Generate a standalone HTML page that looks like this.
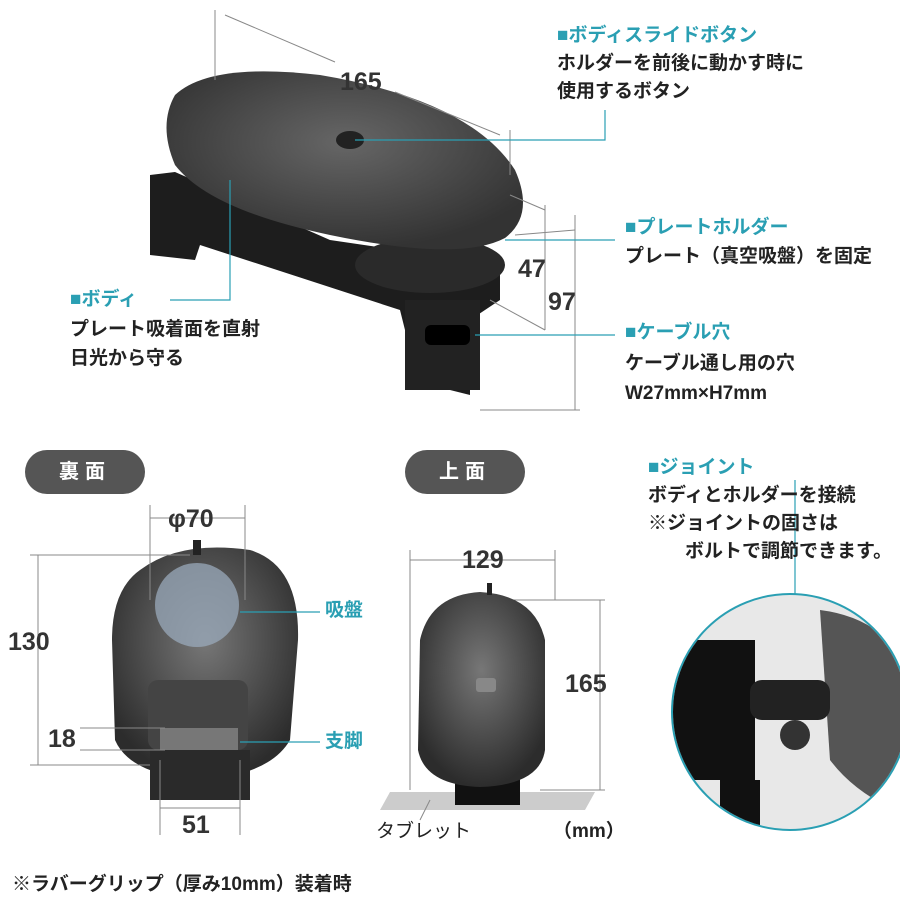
<!DOCTYPE html>
<html><head><meta charset="utf-8"><style>
body{margin:0;width:900px;height:900px;background:#fff;position:relative;overflow:hidden;font-family:"Liberation Sans","Noto Sans CJK JP",sans-serif;color:#222}
.t{position:absolute;font-weight:bold;font-size:19px;white-space:nowrap;line-height:1}
.h{color:#2a9fb3}
.n{position:absolute;font-size:25px;color:#333;font-weight:bold;line-height:1}
.pill{position:absolute;background:#555;color:#fff;border-radius:24px;font-size:20px;font-weight:bold;text-align:center;line-height:44px;letter-spacing:6px}
svg{position:absolute;left:0;top:0}
</style></head><body>
<svg width="900" height="900">
<defs>
<radialGradient id="g1" cx="50%" cy="40%" r="60%"><stop offset="0" stop-color="#666"/><stop offset="1" stop-color="#333"/></radialGradient>
<radialGradient id="g2" cx="50%" cy="40%" r="60%"><stop offset="0" stop-color="#777"/><stop offset="1" stop-color="#2c2c2c"/></radialGradient>
</defs>
<!-- top device -->
<path d="M150 175 L175 172 L330 240 L500 265 L500 300 L470 320 L470 395 L410 380 L405 330 L400 310 L200 245 L195 260 L150 255 Z" fill="#1d1d1d"/>
<rect x="405" y="300" width="75" height="90" fill="#222"/>
<rect x="425" y="325" width="45" height="20" rx="6" fill="#000"/>
<ellipse cx="430" cy="265" rx="75" ry="28" fill="#2a2a2a"/>
<path d="M175 95 Q210 62 320 75 Q470 100 515 170 Q535 215 505 238 Q460 262 330 235 Q210 210 175 165 Q158 125 175 95Z" fill="url(#g1)"/>
<ellipse cx="350" cy="140" rx="14" ry="9" fill="#222"/>
<g stroke="#888" stroke-width="1" fill="none">
<line x1="215" y1="10" x2="215" y2="80"/><line x1="510" y1="130" x2="510" y2="175"/>
<line x1="225" y1="15" x2="335" y2="62"/><line x1="395" y1="92" x2="500" y2="135"/>
<line x1="510" y1="195" x2="545" y2="210"/><line x1="545" y1="205" x2="545" y2="330"/>
<line x1="515" y1="235" x2="575" y2="230"/><line x1="575" y1="215" x2="575" y2="410"/>
<line x1="490" y1="300" x2="545" y2="330"/><line x1="480" y1="410" x2="580" y2="410"/>
</g>
<g stroke="#2a9fb3" stroke-width="1.2" fill="none">
<polyline points="355,140 605,140 605,110"/>
<polyline points="505,240 615,240"/>
<polyline points="475,335 615,335"/>
<polyline points="230,180 230,300 170,300"/>
<polyline points="795,690 795,480"/>
</g>
<!-- joint circle -->
<circle cx="790" cy="712" r="118" fill="#e8e8e8" stroke="#2a9fb3" stroke-width="2"/>
<clipPath id="c"><circle cx="790" cy="712" r="117"/></clipPath>
<g clip-path="url(#c)">
<rect x="660" y="640" width="95" height="140" fill="#111"/>
<path d="M820 610 Q900 620 920 700 L920 820 Q860 800 830 760 Z" fill="#555"/>
<rect x="750" y="680" width="80" height="40" rx="12" fill="#222"/>
<circle cx="795" cy="735" r="15" fill="#333"/>
<rect x="720" y="780" width="40" height="60" fill="#111"/>
</g>
<!-- bottom-left device -->
<path d="M140 570 Q180 540 250 550 Q300 565 298 640 L290 740 Q270 775 200 780 Q130 775 115 740 L112 640 Q112 590 140 570Z" fill="url(#g2)"/>
<circle cx="197" cy="605" r="42" fill="#9ab" opacity=".75"/>
<rect x="148" y="680" width="100" height="70" rx="10" fill="#444"/>
<rect x="160" y="728" width="78" height="22" fill="#777"/>
<rect x="150" y="750" width="100" height="50" fill="#2a2a2a"/>
<rect x="193" y="540" width="8" height="15" fill="#222"/>
<g stroke="#888" stroke-width="1" fill="none">
<line x1="150" y1="505" x2="150" y2="600"/><line x1="245" y1="505" x2="245" y2="600"/>
<line x1="150" y1="518" x2="245" y2="518"/>
<line x1="30" y1="555" x2="190" y2="555"/><line x1="30" y1="765" x2="150" y2="765"/>
<line x1="38" y1="555" x2="38" y2="765"/>
<line x1="80" y1="728" x2="165" y2="728"/><line x1="80" y1="750" x2="165" y2="750"/>
<line x1="160" y1="760" x2="160" y2="835"/><line x1="240" y1="760" x2="240" y2="835"/>
<line x1="160" y1="808" x2="240" y2="808"/>
<line x1="410" y1="550" x2="410" y2="790"/><line x1="555" y1="550" x2="555" y2="600"/>
<line x1="410" y1="560" x2="555" y2="560"/>
<line x1="495" y1="600" x2="605" y2="600"/><line x1="540" y1="790" x2="605" y2="790"/>
<line x1="600" y1="600" x2="600" y2="790"/>
</g>
<g stroke="#2a9fb3" stroke-width="1.2"><line x1="240" y1="612" x2="320" y2="612"/><line x1="240" y1="742" x2="320" y2="742"/></g>
<!-- middle device -->
<polygon points="390,792 595,792 585,810 380,810" fill="#ccc"/>
<rect x="455" y="770" width="65" height="35" fill="#111"/>
<path d="M420 640 Q430 595 480 592 Q535 595 545 640 L545 750 Q540 785 480 787 Q425 785 418 750Z" fill="url(#g2)"/>
<rect x="476" y="678" width="20" height="14" rx="3" fill="#888"/>
<rect x="487" y="583" width="5" height="12" fill="#222"/>
<line x1="430" y1="800" x2="420" y2="820" stroke="#888"/>
</svg>
<div class="t h" style="left:557px;top:26px">■ボディスライドボタン</div>
<div class="t" style="left:557px;top:54px">ホルダーを前後に動かす時に</div>
<div class="t" style="left:557px;top:82px">使用するボタン</div>
<div class="n" style="left:340px;top:70px">165</div>
<div class="t h" style="left:625px;top:218px">■プレートホルダー</div>
<div class="t" style="left:625px;top:247px">プレート（真空吸盤）を固定</div>
<div class="n" style="left:518px;top:257px">47</div>
<div class="n" style="left:548px;top:290px">97</div>
<div class="t h" style="left:625px;top:323px">■ケーブル穴</div>
<div class="t" style="left:625px;top:354px">ケーブル通し用の穴</div>
<div class="t" style="left:625px;top:384px">W27mm×H7mm</div>
<div class="t h" style="left:70px;top:290px">■ボディ</div>
<div class="t" style="left:70px;top:320px">プレート吸着面を直射</div>
<div class="t" style="left:70px;top:349px">日光から守る</div>
<div class="pill" style="left:25px;top:450px;width:120px">裏面</div>
<div class="pill" style="left:405px;top:450px;width:120px">上面</div>
<div class="t h" style="left:648px;top:458px">■ジョイント</div>
<div class="t" style="left:648px;top:486px">ボディとホルダーを接続</div>
<div class="t" style="left:648px;top:514px">※ジョイントの固さは</div>
<div class="t" style="left:685px;top:542px">ボルトで調節できます。</div>
<div class="n" style="left:168px;top:507px">φ70</div>
<div class="n" style="left:8px;top:630px">130</div>
<div class="n" style="left:48px;top:727px">18</div>
<div class="n" style="left:182px;top:813px">51</div>
<div class="t" style="left:325px;top:601px;color:#2a9fb3">吸盤</div>
<div class="t" style="left:325px;top:732px;color:#2a9fb3">支脚</div>
<div class="n" style="left:462px;top:548px">129</div>
<div class="n" style="left:565px;top:672px">165</div>
<div class="t" style="left:376px;top:822px;font-weight:normal">タブレット</div>
<div class="t" style="left:553px;top:822px">（mm）</div>
<div class="t" style="left:12px;top:875px">※ラバーグリップ（厚み10mm）装着時</div>
</body></html>
